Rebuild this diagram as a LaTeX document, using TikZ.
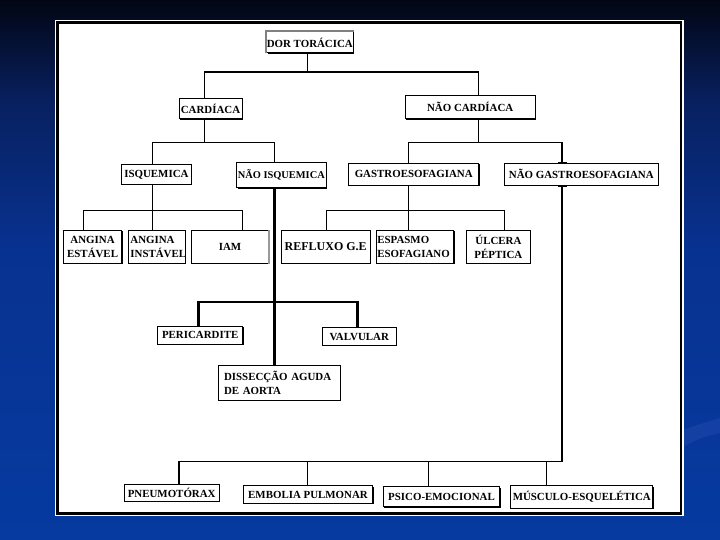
\documentclass[tikz,border=0pt]{standalone}
\usepackage{fontspec}
\setmainfont{Liberation Serif}
\usetikzlibrary{calc,shadows}
\definecolor{bgA}{RGB}{2,6,20}
\definecolor{bgB}{RGB}{8,32,95}
\definecolor{bgC}{RGB}{8,50,145}
\definecolor{bgD}{RGB}{6,58,160}
\definecolor{swoosh}{RGB}{28,70,168}
\newcommand\lbl{\bfseries\fontsize{10.9}{14}\selectfont}
\tikzset{
  box/.style={draw=black, line width=1pt, fill=white, inner sep=0.5pt, font=\lbl,
    drop shadow={shadow xshift=1pt, shadow yshift=-1pt, fill=black, opacity=1}},
  conn/.style={line width=1.1pt, black},
  thickconn/.style={line width=2.6pt, black},
}
\begin{document}
\begin{tikzpicture}[x=1pt, y=-1pt]
\useasboundingbox (0,0) rectangle (720,540);
% background
\shade[top color=bgA, bottom color=bgB] (0,0) rectangle (720,100.5);
\shade[top color=bgB, bottom color=bgC] (0,100) rectangle (720,250.5);
\shade[top color=bgC, bottom color=bgD] (0,250) rectangle (720,540);
\fill[swoosh, opacity=0.6] (683,430) .. controls (700,424) .. (720,418) -- (720,433) .. controls (700,438) .. (683,447) -- cycle;
% panel
\fill[white] (55,20.5) rectangle (683.5,516);
\draw[line width=2.6pt] (57.3,22.3) rectangle (681,513.2);

% nodes
\node[box, minimum width=86.5pt, minimum height=21pt, inner sep=0pt] (dor) at (309.8,42.5) {DOR TORÁCICA};
\node[box, minimum width=63pt, minimum height=20pt] (card) at (210.5,108.8) {CARDÍACA};
\node[box, minimum width=129.6pt, minimum height=23.4pt] (ncard) at (470.2,107.1) {NÃO CARDÍACA};
\node[box, minimum width=69.3pt, minimum height=19.6pt] (isq) at (156.4,174.4) {ISQUEMICA};
\node[box, minimum width=89.5pt, minimum height=25.2pt, inner sep=0pt, font=\bfseries\fontsize{10.4}{14}\selectfont] (nisq) at (281.3,175.1) {NÃO ISQUEMICA};
\node[box, minimum width=130.4pt, minimum height=22.1pt] (gastro) at (413.7,174.3) {GASTROESOFAGIANA};
\node[box, minimum width=153.4pt, minimum height=22.1pt] (ngastro) at (581.3,174.3) {NÃO GASTROESOFAGIANA};
\node[box, minimum width=58.3pt, minimum height=33pt, align=center] (ang1) at (92.6,246.9) {ANGINA\\ESTÁVEL};
\node[box, minimum height=33pt, text width=52.8pt, inner xsep=1.8pt, align=left] (ang2) at (156.8,246.9) {ANGINA\\INSTÁVEL};
\node[box, minimum width=77.1pt, minimum height=33pt] (iam) at (230,246.9) {IAM};
\node[box, minimum width=88.6pt, minimum height=33pt, font=\bfseries\fontsize{12}{14}\selectfont] (refl) at (325.7,246.9) {REFLUXO G.E};
\node[box, minimum height=33pt, text width=75.3pt, inner xsep=0.9pt, align=left] (esp) at (415,246.9) {ESPASMO\\ESOFAGIANO};
\node[box, minimum width=63.8pt, minimum height=33pt, align=center] (ulc) at (498.4,246.9) {ÚLCERA\\PÉPTICA};
\node[box, minimum width=85.4pt, minimum height=18pt] (peri) at (200.2,335.4) {PERICARDITE};
\node[box, minimum width=73.9pt, minimum height=17.6pt] (valv) at (359.2,336.6) {VALVULAR};
\node[box, minimum height=34.4pt, text width=110.7pt, inner xsep=5.5pt, align=left] (diss) at (279.4,382.9) {DISSECÇÃO AGUDA\\DE AORTA};
\node[box, minimum width=94.6pt, minimum height=16.6pt] (pneu) at (171.7,493.1) {PNEUMOTÓRAX};
\node[box, minimum width=129.5pt, minimum height=17.9pt] (emb) at (308,494.5) {EMBOLIA PULMONAR};
\node[box, minimum width=116.1pt, minimum height=20.3pt] (psi) at (441.5,496.8) {PSICO-EMOCIONAL};
\node[box, minimum width=142.3pt, minimum height=22.5pt] (musc) at (581.8,496.8) {MÚSCULO-ESQUELÉTICA};

% gray edges
\draw[gray, line width=2pt] (dor.south west) -- (dor.north west) -- (dor.north east);
\draw[gray!80, line width=1.4pt] (iam.north east) -- (iam.south east);

% junction coordinates
\coordinate (a0) at (307.6,72);
\coordinate (a1) at (204.3,72);
\coordinate (a2) at (478.9,72);
\coordinate (b0) at (204.3,142.9);
\coordinate (b1) at (152.9,142.9);
\coordinate (b2) at (274.6,142.9);
\coordinate (c0) at (478.9,142.9);
\coordinate (c1) at (408.6,142.9);
\coordinate (c2) at (562,142.9);
\coordinate (d0) at (152.9,210.4);
\coordinate (d1) at (83.6,210.4);
\coordinate (d2) at (242.4,210.4);
\coordinate (e0) at (408.6,210.4);
\coordinate (e1) at (326.4,210.4);
\coordinate (e2) at (504.6,210.4);
\coordinate (h0) at (274.6,302);
\coordinate (h1) at (198.3,302);
\coordinate (h2) at (357.7,302);
\coordinate (k0) at (562,461.4);
\coordinate (k1) at (179,461.4);
\coordinate (k2) at (307.6,461.4);
\coordinate (k3) at (428.4,461.4);
\coordinate (k4) at (546.4,461.4);

% connectors
\draw[conn] (a0 |- dor.south) -- (a0);
\draw[conn] (a1 |- card.north) -- (a1) -- (a2) -- (a2 |- ncard.north);
\draw[conn] (b0 |- card.south) -- (b0);
\draw[conn] (b1 |- isq.north) -- (b1) -- (b2) -- (b2 |- nisq.north);
\draw[conn] (c0 |- ncard.south) -- (c0);
\draw[conn] (c1 |- gastro.north) -- (c1) -- (c2) -- (c2 |- ngastro.north);
\draw[conn] (d0 |- isq.south) -- (d0 |- ang2.north);
\draw[conn] (d1 |- ang1.north) -- (d1) -- (d2) -- (d2 |- iam.north);
\draw[conn] (e0 |- gastro.south) -- (e0 |- esp.north);
\draw[conn] (e1 |- refl.north) -- (e1) -- (e2) -- (e2 |- ulc.north);
\draw[thickconn] (h0 |- nisq.south) -- (h0 |- diss.north);
\draw[thickconn] (h1 |- peri.north) -- (h1) -- (h2) -- (h2 |- valv.north);
\draw[conn] (k0 |- ngastro.south) -- (k0) -- (k1) -- (k1 |- pneu.north);
\draw[conn] (k2) -- (k2 |- emb.north);
\draw[conn] (k3) -- (k3 |- psi.north);
\draw[conn] (k4) -- (k4 |- musc.north);
% ticks on NAO GASTROESOFAGIANA
\draw[line width=2.4pt] ($(c2 |- ngastro.north)+(-4.5,0)$) -- ($(c2 |- ngastro.north)+(4.5,0)$);
\draw[line width=2.4pt] ($(k0 |- ngastro.south)+(-4.5,0)$) -- ($(k0 |- ngastro.south)+(4.5,0)$);
\end{tikzpicture}
\end{document}
